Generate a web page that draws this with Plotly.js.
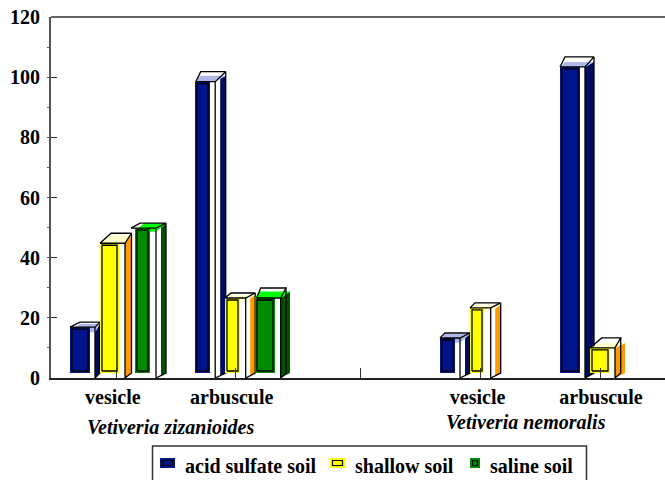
<!DOCTYPE html>
<html><head><meta charset="utf-8">
<script src="https://cdn.plot.ly/plotly-3.0.1.min.js"></script>
<style>html,body{margin:0;padding:0;background:#fff}</style></head>
<body><div id="chart" style="width:665px;height:480px"></div>
<script>
// ---- data ----
const categoryCentres = [0, 1, 2, 3, 4];
const tickMarks = [0, 0.99, 2.02, 3.01, 4];
const acidSulfate = [16.9, 98.5, null, 13.3, 103.4];
const shallow = [44.8, 26.6, null, 23.3, 10];
const saline = [49.8, 26.6, null, null, null];
const seriesNames = ['acid sulfate soil', 'shallow soil', 'saline soil'];
const xLabelPos = [-0.026, 0.956, 2.988, 4.008];
const xLabels = ['vesicle', 'arbuscule', 'vesicle', 'arbuscule'];
const yTicks = [0, 20, 40, 60, 80, 100, 120];
const speciesNames = ['Vetiveria zizanioides', 'Vetiveria nemoralis'];

// ---- style / drawing geometry ----
const palette = [
  {face:'#00148c', top:'#b0b8ea', side:'#000c5e'},
  {face:'#ffff00', top:'#ffffcc', side:'#ff9900'},
  {face:'#008a00', top:'#00ff00', side:'#005400'}
];
const PXX = 121, PXY = 361/120;          // screen px per axis unit
// offsets (screen px) per [series][category]:
// colourLeft, colourW, wireLeft, wireW, backLeftDx, sideW, depthY, topFillFront, topFillBack, backRightDx, sideStart
const geom = [
 [[-46,20,-46,25,10,5,5,5,3.5,5,0],[-42,15,-41.3,19.5,5,10.5,10,0,6,10.5,5],null,[-39,15,-39,20,5,10,5,4.7,4,10,5],[-40,20,-40,25,5,9,10,0,5,9,0]],
 [[-16,19,-16,25,11,6.5,10,0,8,6.5,0],[-12,15,-12,20.7,6,9.5,5,3.7,3,9.5,4.5],null,[-9,14,-9,20.7,5,10,5,3.7,3,10,4.5],[-10,20,-10,25,11.7,10,10,0,5,5.7,0]],
 [[19,15,15,25,9,10,5,3.6,5,10,5],[18,20,19.7,24,4,9.3,10,0,6.5,5.3,0],null,null,null]
];
const colourBase = 5, backBase = 5;

const traces = [];
function poly(xs, ys, color){
  traces.push({type:'scatter', mode:'none', x:xs, y:ys, fill:'toself', fillcolor:color,
               hoverinfo:'skip', showlegend:false});
}
function wire(xs, ys, color, w){
  traces.push({type:'scatter', mode:'lines', x:xs, y:ys, connectgaps:false,
               line:{color:color||'#000', width:w||1.3}, hoverinfo:'skip', showlegend:false});
}
const series = [acidSulfate, shallow, saline];
function addBar(s, c){
  const v = series[s][c];
  if (v === null) return;
  const g = geom[s][c], p = palette[s];
  const X = px => categoryCentres[c] + px/PXX;
  const dy = px => px/PXY;
  const [cl,cw,wl,ww,bl,sw,d,tf,tb,br,ss] = g;
  const base = dy(colourBase);
  const wr = wl + ww;
  const t = ss/sw;
  const topFront = v-dy(tf), topBack = v+dy(tb);
  // side
  poly([X(wr+ss),X(wr+sw),X(wr+sw),X(wr+ss)],
       [topFront+(topBack-topFront)*t,topBack,dy(backBase),dy(backBase)*t],p.side);
  // top
  poly([X(cl),X(wr),X(wr+sw),X(cl+bl)],[topFront,topFront,topBack,topBack],p.top);
  // front colour
  poly([X(cl),X(cl+cw),X(cl+cw),X(cl)],[base,base,v,v],p.face);
  // inner outline
  wire([X(cl+2),X(cl+cw-2),X(cl+cw-2),X(cl+2),X(cl+2)],[dy(7),dy(7),v-dy(2),v-dy(2),dy(7)],'#000',1.3);
  // wire frame
  wire([X(wl),X(wr),X(wr+br),X(wl+bl),X(wl),null,X(wr),X(wr),X(wr+br),X(wr+br)],
       [v,v,v+dy(d),v+dy(d),v,null,v,0,dy(backBase),v+dy(d)],'#000',1.3);
}
for (const c of categoryCentres) for (let s=0;s<3;s++) addBar(s,c);

// paper helpers for annotations outside the plot
const fx = px => (px-51)/614, fy = py => (378-py)/361;
const legendX = [160,330,470], legendW = [15,15,10], legendTextX = [185,355,490];
const shapes = [
  {type:'line',xref:'paper',yref:'paper',x0:0,x1:1,y0:1,y1:1,line:{color:'#333',width:1.5}},
  {type:'rect',xref:'paper',yref:'paper',x0:fx(152.5),x1:fx(586.5),y0:fy(490),y1:fy(446),
   line:{color:'#333',width:1.5},fillcolor:'#fff'}
];
const annotations = [
  {text:'<b><i>'+speciesNames[0]+'</i></b>',xref:'x',yref:'paper',x:0.45,y:fy(427),showarrow:false,xanchor:'center',yanchor:'middle',
   font:{family:'Liberation Serif',size:20,color:'#000'}},
  {text:'<b><i>'+speciesNames[1]+'</i></b>',xref:'x',yref:'paper',x:3.39,y:fy(422),showarrow:false,xanchor:'center',yanchor:'middle',
   font:{family:'Liberation Serif',size:20,color:'#000'}}
];
seriesNames.forEach((n,i)=>{
  shapes.push({type:'rect',xref:'paper',yref:'paper',x0:fx(legendX[i]),x1:fx(legendX[i]+legendW[i]),y0:fy(468),y1:fy(458),
    line:{width:0},fillcolor:palette[i].face});
  shapes.push({type:'rect',xref:'paper',yref:'paper',x0:fx(legendX[i]+2.5),x1:fx(legendX[i]+legendW[i]-2.5),y0:fy(465.5),y1:fy(460.5),
    line:{color:'#000',width:1.2},fillcolor:'rgba(0,0,0,0)'});
  annotations.push({text:'<b>'+n+'</b>',xref:'paper',yref:'paper',x:fx(legendTextX[i]),y:fy(466),showarrow:false,
    xanchor:'left',yanchor:'middle',xshift:-2,font:{family:'Liberation Serif',size:20,color:'#000'}});
});

const layout = {
  width:665, height:480, autosize:false,
  margin:{l:51,r:0,t:17,b:102,pad:0},
  paper_bgcolor:'#fff', plot_bgcolor:'#fff', showlegend:false,
  font:{family:'Liberation Serif',color:'#000'},
  xaxis:{range:[(51-116)/PXX,(665-116)/PXX], tickmode:'array', tickvals:xLabelPos, ticktext:xLabels.map(t=>'<b>'+t+'</b>'),
    ticks:'', showgrid:false, zeroline:false, showline:true, linecolor:'#222', linewidth:1.5,
    tickfont:{family:'Liberation Serif',size:20,color:'#000'}, ticklabelstandoff:0,
    minor:{tickmode:'array',tickvals:tickMarks,ticks:'inside',ticklen:10,tickcolor:'#333',tickwidth:1,showgrid:false}},
  yaxis:{range:[0,120], tickmode:'array', tickvals:yTicks, ticktext:yTicks.map(t=>'<b>'+t+'</b>'),
    ticks:'inside', ticklen:6, tickcolor:'#333', tickwidth:1, showgrid:false, zeroline:false, showline:true,
    linecolor:'#555', linewidth:2, tickfont:{family:'Liberation Serif',size:20,color:'#000'}, ticklabelstandoff:5,
    minor:{dtick:10,ticks:'outside',ticklen:2,tickcolor:'#555',tickwidth:1,showgrid:false}},
  shapes, annotations
};
Plotly.newPlot('chart', traces, layout, {displayModeBar:false, staticPlot:true});
</script></body></html>
